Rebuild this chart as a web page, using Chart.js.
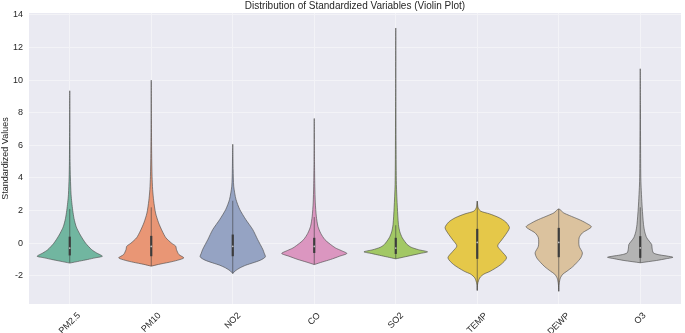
<!DOCTYPE html>
<html>
<head>
<meta charset="utf-8">
<script src="https://cdn.jsdelivr.net/npm/chart.js@4.4.1/dist/chart.umd.min.js"></script>
<style>
  html, body { margin: 0; padding: 0; background: #ffffff; }
  #wrap { width: 685px; height: 333px; }
</style>
</head>
<body>
<div id="wrap"><canvas id="violinChart"></canvas></div>
<script>
// Categories and colours (seaborn Set2, desaturated)
const CATEGORIES = ['PM2.5', 'PM10', 'NO2', 'CO', 'SO2', 'TEMP', 'DEWP', 'O3'];
const COLORS = ['#71b6a0', '#e99675', '#95a3c3', '#db96c0', '#a2c865', '#e5c849', '#dbc29e', '#b3b3b3'];

// Violin outlines: standardized value levels and half-widths (category units)
const PM25_LEVELS = [-1.22, -1.1, -1.0, -0.9, -0.8, -0.6, -0.4, 0.0, 0.5, 1.0, 1.5, 2.0, 2.5, 3.0, 4.0, 5.0, 7.0, 9.35];
const PM25_WIDTHS = [0, 0.12, 0.22, 0.31, 0.40, 0.33, 0.27, 0.195, 0.13, 0.08, 0.053, 0.037, 0.025, 0.016, 0.008, 0.004, 0.002, 0];

const PM10_LEVELS = [-1.41, -1.3, -1.17, -1.05, -0.9, -0.7, -0.4, -0.18, 0.0, 0.33, 0.75, 1.25, 1.85, 2.6, 3.3, 4.1, 5.5, 7.5, 10.0];
const PM10_WIDTHS = [0, 0.09, 0.22, 0.32, 0.40, 0.34, 0.31, 0.30, 0.25, 0.18, 0.134, 0.09, 0.053, 0.03, 0.017, 0.01, 0.005, 0.002, 0];

const NO2_LEVELS = [-1.86, -1.7, -1.51, -1.35, -1.21, -1.04, -0.84, -0.6, -0.39, 0.23, 0.84, 1.45, 2.07, 2.68, 3.5, 4.5, 6.07];
const NO2_WIDTHS = [0, 0.03, 0.09, 0.16, 0.245, 0.34, 0.40, 0.385, 0.37, 0.305, 0.245, 0.16, 0.086, 0.04, 0.012, 0.005, 0];

const CO_LEVELS = [-1.31, -1.15, -1.0, -0.8, -0.63, -0.45, -0.29, 0.0, 0.22, 0.6, 1.04, 1.66, 2.47, 3.5, 5.0, 7.65];
const CO_WIDTHS = [0, 0.1, 0.2, 0.31, 0.40, 0.33, 0.26, 0.18, 0.13, 0.08, 0.045, 0.025, 0.013, 0.007, 0.003, 0];

const SO2_LEVELS = [-0.96, -0.85, -0.74, -0.63, -0.53, -0.4, -0.25, -0.08, 0.33, 0.7, 1.15, 2.17, 3.6, 6.0, 9.0, 13.2];
const SO2_WIDTHS = [0, 0.1, 0.2, 0.3, 0.39, 0.28, 0.19, 0.14, 0.08, 0.05, 0.033, 0.02, 0.008, 0.004, 0.002, 0];

const TEMP_LEVELS = [-2.9, -2.5, -2.13, -1.9, -1.72, -1.31, -0.9, -0.5, -0.17, 0.2, 0.54, 0.95, 1.3, 1.56, 1.8, 1.97, 2.2, 2.58];
const TEMP_WIDTHS = [0, 0.005, 0.03, 0.08, 0.16, 0.29, 0.36, 0.3, 0.25, 0.3, 0.35, 0.395, 0.35, 0.27, 0.15, 0.04, 0.01, 0];

const DEWP_LEVELS = [-2.95, -2.5, -2.13, -1.9, -1.72, -1.45, -1.2, -0.9, -0.59, -0.18, 0.33, 0.63, 1.0, 1.25, 1.45, 1.7, 1.86, 2.1];
const DEWP_WIDTHS = [0, 0.005, 0.02, 0.05, 0.1, 0.17, 0.22, 0.27, 0.29, 0.25, 0.25, 0.29, 0.40, 0.33, 0.25, 0.13, 0.06, 0];

const O3_LEVELS = [-1.2, -1.06, -0.95, -0.86, -0.7, -0.59, -0.3, -0.08, 0.33, 0.7, 1.15, 2.17, 3.8, 6.0, 8.5, 10.7];
const O3_WIDTHS = [0, 0.2, 0.32, 0.40, 0.22, 0.16, 0.145, 0.14, 0.08, 0.055, 0.04, 0.024, 0.008, 0.004, 0.002, 0];

// Inner box stats
const Q1 = [-0.75, -0.8, -0.8, -0.6, -0.66, -0.96, -0.86, -0.9];
const MEDIAN = [-0.3, -0.2, -0.19, -0.2, -0.3, 0.05, 0.05, -0.29];
const Q3 = [0.4, 0.45, 0.53, 0.33, 0.33, 0.88, 0.94, 0.43];
const WHISKER_LO = [-1.2, -1.4, -1.86, -1.3, -0.96, -2.9, -2.95, -1.2];
const WHISKER_HI = [2.1, 2.2, 2.6, 1.6, 1.1, 2.58, 2.1, 2.2];

const Y_TICKS = [-2, 0, 2, 4, 6, 8, 10, 12, 14];

const LEVELS = [PM25_LEVELS, PM10_LEVELS, NO2_LEVELS, CO_LEVELS, SO2_LEVELS, TEMP_LEVELS, DEWP_LEVELS, O3_LEVELS];
const WIDTHS = [PM25_WIDTHS, PM10_WIDTHS, NO2_WIDTHS, CO_WIDTHS, SO2_WIDTHS, TEMP_WIDTHS, DEWP_WIDTHS, O3_WIDTHS];

const FONT = "'Liberation Sans', Arial, sans-serif";
const TEXT = '#262626';
const INNER = '#3c3c3c';
const GRID = '#f3f3f7';

Chart.defaults.font.family = FONT;
Chart.defaults.color = TEXT;

// closed outline: up the right side, back down the left side
function violinPoints(i) {
    const ys = LEVELS[i], ws = WIDTHS[i];
    const right = ys.map((y, k) => ({ x: i + ws[k], y: y }));
    const left = ys.map((y, k) => ({ x: i - ws[k], y: y })).reverse();
    return right.concat(left.slice(1));
}

const datasets = [];

CATEGORIES.forEach((name, i) => {
    datasets.push({
        label: name,
        data: violinPoints(i),
        showLine: true,
        fill: 'shape',
        backgroundColor: COLORS[i],
        borderColor: 'rgba(75, 75, 75, 0.8)',
        borderWidth: 0.8,
        tension: 0.25,
        pointRadius: 0,
        order: 3
    });
    // whisker
    datasets.push({
        data: [{ x: i, y: WHISKER_LO[i] }, { x: i, y: WHISKER_HI[i] }],
        showLine: true,
        borderColor: 'rgba(60, 60, 60, 0.75)',
        borderWidth: 0.8,
        pointRadius: 0,
        order: 2
    });
    // interquartile box
    datasets.push({
        data: [{ x: i, y: Q1[i] }, { x: i, y: Q3[i] }],
        showLine: true,
        borderColor: INNER,
        borderWidth: 2.2,
        pointRadius: 0,
        order: 1
    });
});

datasets.push({
    data: MEDIAN.map((m, i) => ({ x: i, y: m })),
    showLine: false,
    pointRadius: 0.9,
    pointBackgroundColor: '#bdbdbd',
    pointBorderWidth: 0,
    order: 0
});

// grey plot background, title and rotated category labels
const decor = {
    id: 'decor',
    beforeDraw(chart) {
        const { ctx, chartArea: a } = chart;
        ctx.save();
        ctx.fillStyle = '#eaeaf2';
        ctx.fillRect(a.left, a.top, a.right - a.left, a.bottom - a.top);
        ctx.restore();
    },
    afterDraw(chart) {
        const { ctx, chartArea: a, scales } = chart;
        ctx.save();
        ctx.fillStyle = TEXT;
        ctx.textAlign = 'center';
        ctx.textBaseline = 'middle';
        ctx.font = '10px ' + FONT;
        ctx.fillText('Distribution of Standardized Variables (Violin Plot)', (a.left + a.right) / 2, 6);

        ctx.font = '9px ' + FONT;
        CATEGORIES.forEach((c, i) => {
            const px = scales.x.getPixelForValue(i);
            const w = ctx.measureText(c).width;
            const half = (w + 9) * Math.SQRT1_2 / 2;
            ctx.save();
            ctx.translate(px, a.bottom + 7 + half);
            ctx.rotate(-Math.PI / 4);
            ctx.fillText(c, 0, 0);
            ctx.restore();
        });
        ctx.restore();
    }
};

const ctx = document.getElementById('violinChart').getContext('2d');
const chart = new Chart(ctx, {
    type: 'scatter',
    data: { datasets: datasets },
    plugins: [decor],
    options: {
        responsive: true,
        maintainAspectRatio: false,
        animation: false,
        layout: { padding: { top: 13, right: 1, bottom: 29, left: 0 } },
        plugins: {
            legend: { display: false },
            tooltip: { enabled: false },
            title: { display: false }
        },
        scales: {
            x: {
                type: 'linear',
                min: -0.5,
                max: 7.5,
                border: { display: false },
                grid: { color: GRID, lineWidth: 1, drawTicks: false },
                afterBuildTicks(s) { s.ticks = CATEGORIES.map((c, i) => ({ value: i })); },
                ticks: { display: false },
                afterFit(s) { s.height = 0; }
            },
            y: {
                min: -3.73,
                max: 14.12,
                border: { display: false },
                grid: { color: GRID, lineWidth: 1, drawTicks: false },
                afterBuildTicks(s) { s.ticks = Y_TICKS.map(v => ({ value: v })); },
                ticks: {
                    padding: 6,
                    font: { size: 9 },
                    color: TEXT,
                    autoSkip: false
                },
                title: {
                    display: true,
                    text: 'Standardized Values',
                    font: { size: 9 },
                    color: TEXT,
                    padding: 0
                },
                afterFit(s) { s.width = 29; }
            }
        }
    }
});
</script>
</body>
</html>
